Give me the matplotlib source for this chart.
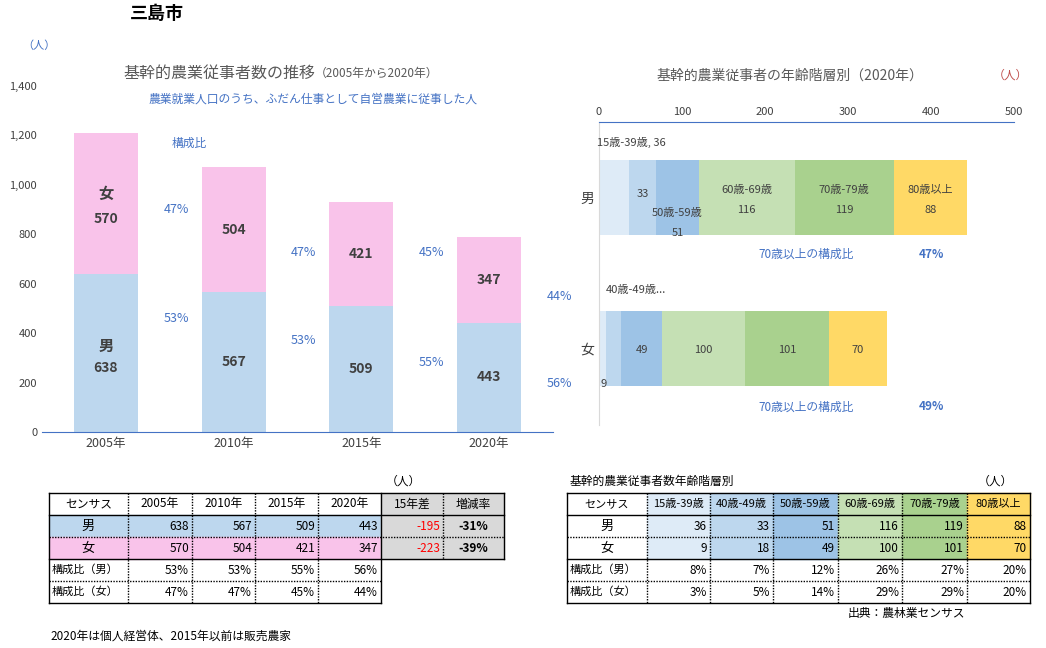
import matplotlib
matplotlib.use("Agg")
import matplotlib.pyplot as plt
from matplotlib.patches import Rectangle
import numpy as np

plt.rcParams["font.family"] = "Noto Sans CJK JP"

years = ["2005年", "2010年", "2015年", "2020年"]
male = [638, 567, 509, 443]
female = [570, 504, 421, 347]
male_pct = ["53%", "53%", "55%", "56%"]
female_pct = ["47%", "47%", "45%", "44%"]
diff15 = ["-195", "-223"]
rate = ["-31%", "-39%"]

ages = ["15歳-39歳", "40歳-49歳", "50歳-59歳", "60歳-69歳", "70歳-79歳", "80歳以上"]
age_male = [36, 33, 51, 116, 119, 88]
age_female = [9, 18, 49, 100, 101, 70]
age_male_pct = ["8%", "7%", "12%", "26%", "27%", "20%"]
age_female_pct = ["3%", "5%", "14%", "29%", "29%", "20%"]
over70 = ["47%", "49%"]

C_M, C_F = "#BDD7EE", "#F9C3EA"
age_colors = ["#DEEBF7", "#BDD7EE", "#9DC3E6", "#C5E0B4", "#A9D18E", "#FFD966"]
BLUE = "#4472C4"
TXT = "#404040"

W, H = 1046, 648
fig = plt.figure(figsize=(W/100, H/100), dpi=100)

def rect(l, t, r, b):
    return [l/W, 1-b/H, (r-l)/W, (b-t)/H]

# overlay for free text/tables
ov = fig.add_axes([0, 0, 1, 1], zorder=0)
ov.set_xlim(0, W); ov.set_ylim(H, 0); ov.axis("off")

ov.text(130, 13, "三島市", fontsize=13, fontweight="bold", va="center")
ov.text(22, 46, "（人）", fontsize=8, color=BLUE, va="center")
ov.text(315, 73, "基幹的農業従事者数の推移", fontsize=11.5, color="#595959", ha="right", va="center")
ov.text(315, 73, "（2005年から2020年）", fontsize=8.5, color="#595959", ha="left", va="center")
ov.text(313, 99, "農業就業人口のうち、ふだん仕事として自営農業に従事した人", fontsize=8.5, color=BLUE, ha="center", va="center")
ov.text(790, 76, "基幹的農業従事者の年齢階層別（2020年）", fontsize=10, color="#595959", ha="center", va="center")
ov.text(1010, 75, "（人）", fontsize=8.5, color="#C0504D", ha="center", va="center")

# left chart
ax = fig.add_axes(rect(42, 86, 553, 432), zorder=1)
ax.patch.set_alpha(0)
x = np.arange(len(years))
ax.bar(x, male, width=0.5, color=C_M)
ax.bar(x, female, bottom=male, width=0.5, color=C_F)
ax.set_xlim(-0.5, 3.5); ax.set_ylim(0, 1400)
ax.set_yticks(range(0, 1401, 200))
ax.set_yticklabels([f"{v:,}" for v in range(0, 1401, 200)], fontsize=8, color=TXT)
ax.set_xticks(x); ax.set_xticklabels(years, fontsize=9, color=TXT)
for s in ["top", "right"]:
    ax.spines[s].set_visible(False)
ax.spines["left"].set_visible(False)
ax.spines["bottom"].set_color("#4472C4")
ax.tick_params(length=0)
for i in range(4):
    ax.text(i, male[i]/2 + (-60 if i == 0 else 0), f"{male[i]}", ha="center", va="center", fontsize=10, fontweight="bold", color=TXT)
    ax.text(i, male[i] + female[i]/2 + (-60 if i == 0 else 0), f"{female[i]}", ha="center", va="center", fontsize=10, fontweight="bold", color=TXT)
ax.text(0, 350, "男", ha="center", va="center", fontsize=11, fontweight="bold", color=TXT)
ax.text(0, 965, "女", ha="center", va="center", fontsize=11, fontweight="bold", color=TXT)
fy = [900, 728, 728, 550]
my = [460, 370, 280, 195]
fx = [0.55, 1.55, 2.55, 3.55]
for i in range(4):
    ax.text(fx[i], fy[i], female_pct[i], ha="center", va="center", fontsize=9, color=BLUE)
    ax.text(fx[i], my[i], male_pct[i], ha="center", va="center", fontsize=9, color=BLUE)
ax.text(0.65, 1170, "構成比", ha="center", va="center", fontsize=8.5, color=BLUE)

# right chart
ax2 = fig.add_axes(rect(599, 122, 1014, 425), zorder=1)
ax2.patch.set_alpha(0)
ax2.set_xlim(0, 500); ax2.set_ylim(425, 122)
ax2.xaxis.tick_top()
ax2.set_xticks(range(0, 501, 100))
ax2.set_xticklabels([str(v) for v in range(0, 501, 100)], fontsize=8, color=TXT)
ax2.tick_params(length=0)
ax2.set_yticks([197, 348]); ax2.set_yticklabels(["男", "女"], fontsize=10, color=TXT)
for s in ["bottom", "right"]:
    ax2.spines[s].set_visible(False)
ax2.spines["top"].set_color(BLUE)
ax2.spines["left"].set_color("#D9D9D9")
for yc, vals in [(197, age_male), (348, age_female)]:
    left = 0
    for j, v in enumerate(vals):
        ax2.barh(yc, v, left=left, height=75, color=age_colors[j])
        left += v
cm = np.cumsum([0] + age_male)
cf = np.cumsum([0] + age_female)
ax2.text(-3, 142, f"{ages[0]}, {age_male[0]}", fontsize=8, color=TXT, va="center", ha="left")
ax2.text((cm[1]+cm[2])/2, 194, f"{age_male[1]}", fontsize=8, color=TXT, ha="center", va="center")
ax2.text((cm[2]+cm[3])/2, 213, ages[2], fontsize=8, color=TXT, ha="center", va="center")
ax2.text((cm[2]+cm[3])/2, 233, f"{age_male[2]}", fontsize=8, color=TXT, ha="center", va="center")
for j in [3, 4, 5]:
    ax2.text((cm[j]+cm[j+1])/2, 190, ages[j], fontsize=8, color=TXT, ha="center", va="center")
    ax2.text((cm[j]+cm[j+1])/2, 210, f"{age_male[j]}", fontsize=8, color=TXT, ha="center", va="center")
ax2.text(8, 290, "40歳-49歳...", fontsize=8, color=TXT, va="center", ha="left")
ax2.text(5, 384, f"{age_female[0]}", fontsize=8, color=TXT, ha="center", va="center")
for j in [2, 3, 4, 5]:
    ax2.text((cf[j]+cf[j+1])/2, 350, f"{age_female[j]}", fontsize=8, color=TXT, ha="center", va="center")
for yy, p in [(254, over70[0]), (407, over70[1])]:
    ax2.text(250, yy, "70歳以上の構成比", fontsize=8.5, color=BLUE, ha="center", va="center")
    ax2.text(400, yy, p, fontsize=8.5, color=BLUE, fontweight="bold", ha="center", va="center")

# tables
def hline(x0, x1, y, dotted=False, lw=1.0):
    ov.plot([x0, x1], [y, y], color="black", lw=lw, ls=(0, (1, 1)) if dotted else "-")
def vline(xv, y0, y1, dotted=False, lw=1.0):
    ov.plot([xv, xv], [y0, y1], color="black", lw=lw, ls=(0, (1, 1)) if dotted else "-")

# left table
cx = [49, 128, 192, 255, 318, 381, 443, 504]
ry = [493, 515, 537, 559, 581, 603]
ov.add_patch(Rectangle((cx[0], ry[1]), cx[5]-cx[0], ry[2]-ry[1], color=C_M, zorder=0))
ov.add_patch(Rectangle((cx[0], ry[2]), cx[5]-cx[0], ry[3]-ry[2], color=C_F, zorder=0))
ov.add_patch(Rectangle((cx[5], ry[0]), cx[7]-cx[5], ry[3]-ry[0], color="#D9D9D9", zorder=0))
hdr = ["センサス"] + years + ["15年差", "増減率"]
for k, h in enumerate(hdr):
    ov.text((cx[k]+cx[k+1])/2, (ry[0]+ry[1])/2, h, ha="center", va="center", fontsize=8.5, color="black")
for r, (lab, vals) in enumerate([("男", male), ("女", female)]):
    yc = (ry[r+1]+ry[r+2])/2
    ov.text((cx[0]+cx[1])/2, yc, lab, ha="center", va="center", fontsize=9.5)
    for k, v in enumerate(vals):
        ov.text(cx[k+2]-3, yc, str(v), ha="right", va="center", fontsize=8.5)
    ov.text(cx[6]-3, yc, diff15[r], ha="right", va="center", fontsize=8.5, color="red")
    ov.text((cx[6]+cx[7])/2, yc, rate[r], ha="center", va="center", fontsize=8.5, fontweight="bold")
for r, (lab, vals) in enumerate([("構成比（男）", male_pct), ("構成比（女）", female_pct)]):
    yc = (ry[r+3]+ry[r+4])/2
    ov.text(cx[0]+3, yc, lab, ha="left", va="center", fontsize=8)
    for k, v in enumerate(vals):
        ov.text(cx[k+2]-3, yc, v, ha="right", va="center", fontsize=8.5)
hline(cx[0], cx[7], ry[0]); hline(cx[0], cx[7], ry[1]); hline(cx[0], cx[7], ry[2], True)
hline(cx[0], cx[7], ry[3]); hline(cx[0], cx[5], ry[4], True); hline(cx[0], cx[5], ry[5])
vline(cx[0], ry[0], ry[5]); vline(cx[5], ry[0], ry[5]); vline(cx[7], ry[0], ry[3])
vline(cx[1], ry[0], ry[5], True); vline(cx[6], ry[0], ry[3], True)
for k in [2, 3, 4]:
    vline(cx[k], ry[0], ry[5], True)
ov.text(cx[6]-40, 481, "（人）", fontsize=8.5, ha="center", va="center")
ov.text(50, 636, "2020年は個人経営体、2015年以前は販売農家", fontsize=8.5, va="center")

# right table
qx = [567, 647, 710, 773, 838, 902, 967, 1030]
for j in range(6):
    ov.add_patch(Rectangle((qx[j+1], ry[0]), qx[j+2]-qx[j+1], ry[3]-ry[0], color=age_colors[j], zorder=0))
for k, h in enumerate(["センサス"] + ages):
    ov.text((qx[k]+qx[k+1])/2, (ry[0]+ry[1])/2, h, ha="center", va="center", fontsize=8)
for r, (lab, vals) in enumerate([("男", age_male), ("女", age_female)]):
    yc = (ry[r+1]+ry[r+2])/2
    ov.text((qx[0]+qx[1])/2, yc, lab, ha="center", va="center", fontsize=9.5)
    for k, v in enumerate(vals):
        ov.text(qx[k+2]-3, yc, str(v), ha="right", va="center", fontsize=8.5)
for r, (lab, vals) in enumerate([("構成比（男）", age_male_pct), ("構成比（女）", age_female_pct)]):
    yc = (ry[r+3]+ry[r+4])/2
    ov.text(qx[0]+3, yc, lab, ha="left", va="center", fontsize=8)
    for k, v in enumerate(vals):
        ov.text(qx[k+2]-3, yc, v, ha="right", va="center", fontsize=8.5)
hline(qx[0], qx[7], ry[0]); hline(qx[0], qx[7], ry[1]); hline(qx[0], qx[7], ry[2], True)
hline(qx[0], qx[7], ry[3]); hline(qx[0], qx[7], ry[4], True); hline(qx[0], qx[7], ry[5])
vline(qx[0], ry[0], ry[5]); vline(qx[7], ry[0], ry[5])
for k in range(1, 7):
    vline(qx[k], ry[0], ry[5], True)
ov.text(570, 481, "基幹的農業従事者数年齢階層別", fontsize=8.5, va="center")
ov.text(995, 481, "（人）", fontsize=8.5, ha="center", va="center")
ov.text(906, 614, "出典：農林業センサス", fontsize=8.5, ha="center", va="center")

fig.savefig("out.png", dpi=100)
